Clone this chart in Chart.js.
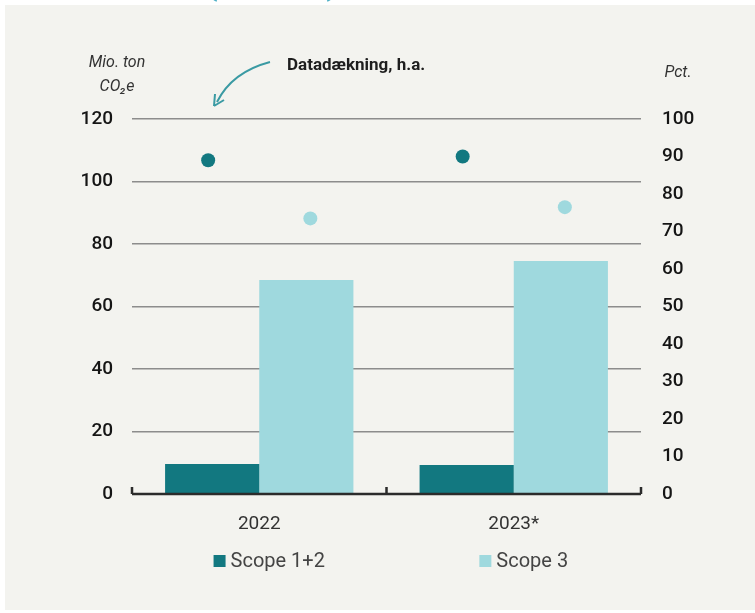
<!DOCTYPE html>
<html>
<head>
<meta charset="utf-8">
<script src="https://cdn.jsdelivr.net/npm/chart.js@4"></script>
<style>
  html, body { margin: 0; padding: 0; background: #ffffff; }
  #wrap { position: relative; width: 755px; height: 613px; }
  #panel { position: absolute; left: 5px; top: 5px; width: 750px; height: 605px; background: #f3f3ef; }
  canvas { position: absolute; left: 0; top: 0; }
</style>
</head>
<body>
<div id="wrap">
  <div id="panel"></div>
  <canvas id="co2Chart" width="755" height="613"></canvas>
</div>
<script>
// Udledning (Mio. ton CO2e) og datadækning (pct.)
const years = ['2022', '2023*'];
const scope12 = [9.6, 9.3];
const scope3 = [68.5, 74.6];
const cover12 = [89, 90];   // datadækning, h.a.
const cover3 = [73.5, 76.5];
const leftTicks = [0, 20, 40, 60, 80, 100, 120];
const rightTicks = [0, 10, 20, 30, 40, 50, 60, 70, 80, 90, 100];

const darkTeal = '#127880';
const lightTeal = '#9fd9de';
const tickFont = { family: 'Roboto, "Liberation Sans", Arial, sans-serif', size: 19, weight: '500' };

// flyt prikkerne over den tilhørende søjle
const dotAlign = {
    id: 'dotAlign',
    afterDatasetsUpdate(chart) {
        [[2, 0, -4], [3, 1, 4]].forEach(([dotIdx, barIdx, nudge]) => {
            const dots = chart.getDatasetMeta(dotIdx).data;
            const bars = chart.getDatasetMeta(barIdx).data;
            dots.forEach((p, i) => { p.x = bars[i].x + nudge; });
        });
    }
};

const extras = {
    id: 'extras',
    afterDraw(chart) {
        const c = chart.ctx;
        const x = chart.scales.x;
        const area = chart.chartArea;
        c.save();
        // x-akse med små streger
        c.strokeStyle = '#2b2b2b';
        c.lineWidth = 2.5;
        c.beginPath();
        c.moveTo(area.left, area.bottom);
        c.lineTo(area.right, area.bottom);
        const mid = (x.getPixelForValue(0) + x.getPixelForValue(1)) / 2;
        [area.left, mid, area.right].forEach(px => {
            c.moveTo(px, area.bottom);
            c.lineTo(px, area.bottom - 7);
        });
        c.stroke();

        // akse-titler
        c.fillStyle = '#333';
        c.font = 'italic 16px Roboto, "Liberation Sans", Arial, sans-serif';
        c.textAlign = 'center';
        c.textBaseline = 'middle';
        c.fillText('Mio. ton', 117, 63);
        c.fillText('CO₂e', 117, 87);
        c.fillText('Pct.', 678, 73);
        c.fillStyle = '#1e1e1e';
        c.font = 'bold 17px Roboto, "Liberation Sans", Arial, sans-serif';
        c.textAlign = 'left';
        c.fillText('Datadækning, h.a.', 287, 66);

        // pil
        c.strokeStyle = '#3a9aa3';
        c.lineWidth = 2;
        c.beginPath();
        c.moveTo(270, 62);
        c.quadraticCurveTo(232, 72, 217, 102);
        c.stroke();
        c.beginPath();
        c.moveTo(214, 106);
        c.lineTo(215, 94);
        c.moveTo(214, 106);
        c.lineTo(224, 100);
        c.stroke();

        // tegnforklaring under hver kategori
        const items = [['Scope 1+2', darkTeal], ['Scope 3', lightTeal]];
        c.font = '20px Roboto, "Liberation Sans", Arial, sans-serif';
        c.textBaseline = 'middle';
        items.forEach(([label, col], i) => {
            const cx = x.getPixelForValue(i) + 10;
            const w = 12 + 5 + c.measureText(label).width;
            const sx = cx - w / 2;
            c.fillStyle = col;
            c.fillRect(sx, 555, 12, 12);
            c.fillStyle = '#444';
            c.textAlign = 'left';
            c.fillText(label, sx + 17, 562);
        });

        // afskåret parentes foroven
        c.strokeStyle = '#4fb0c6';
        c.lineWidth = 1.5;
        c.beginPath();
        c.arc(222, -12, 14, Math.PI * 0.62, Math.PI * 0.85);
        c.stroke();
        c.beginPath();
        c.arc(322, -12, 14, Math.PI * 0.15, Math.PI * 0.38);
        c.stroke();
        c.restore();
    }
};

new Chart(document.getElementById('co2Chart').getContext('2d'), {
    type: 'bar',
    data: {
        labels: years,
        datasets: [
            { label: 'Scope 1+2', data: scope12, backgroundColor: darkTeal, yAxisID: 'y', order: 2 },
            { label: 'Scope 3', data: scope3, backgroundColor: lightTeal, yAxisID: 'y', order: 2 },
            { type: 'line', label: 'Datadækning Scope 1+2', data: cover12, yAxisID: 'y1', showLine: false,
              pointRadius: 7, pointBackgroundColor: darkTeal, pointBorderWidth: 0, order: 1 },
            { type: 'line', label: 'Datadækning Scope 3', data: cover3, yAxisID: 'y1', showLine: false,
              pointRadius: 7, pointBackgroundColor: lightTeal, pointBorderWidth: 0, order: 1 }
        ]
    },
    options: {
        responsive: false,
        animation: false,
        layout: { padding: { top: 119, left: 0, right: 0, bottom: 0 } },
        datasets: { bar: { categoryPercentage: 0.74, barPercentage: 1 } },
        plugins: { legend: { display: false }, tooltip: { enabled: false } },
        scales: {
            x: {
                grid: { display: false },
                border: { display: false },
                ticks: { color: '#333', padding: 11, font: { family: 'Roboto, "Liberation Sans", Arial, sans-serif', size: 19 } },
                afterFit(s) { s.height = 119; }
            },
            y: {
                position: 'left',
                min: 0, max: 120,
                afterBuildTicks(s) { s.ticks = leftTicks.map(v => ({ value: v })); },
                grid: { color: '#8c8c8c', lineWidth: 1.5, drawTicks: false },
                border: { display: false },
                ticks: { color: '#151515', padding: 19, font: tickFont },
                afterFit(s) { s.width = 132; }
            },
            y1: {
                position: 'right',
                min: 0, max: 100,
                afterBuildTicks(s) { s.ticks = rightTicks.map(v => ({ value: v })); },
                grid: { drawOnChartArea: false, drawTicks: false },
                border: { display: false },
                ticks: { color: '#151515', padding: 21, font: tickFont },
                afterFit(s) { s.width = 114; }
            }
        }
    },
    plugins: [dotAlign, extras]
});
</script>
</body>
</html>
